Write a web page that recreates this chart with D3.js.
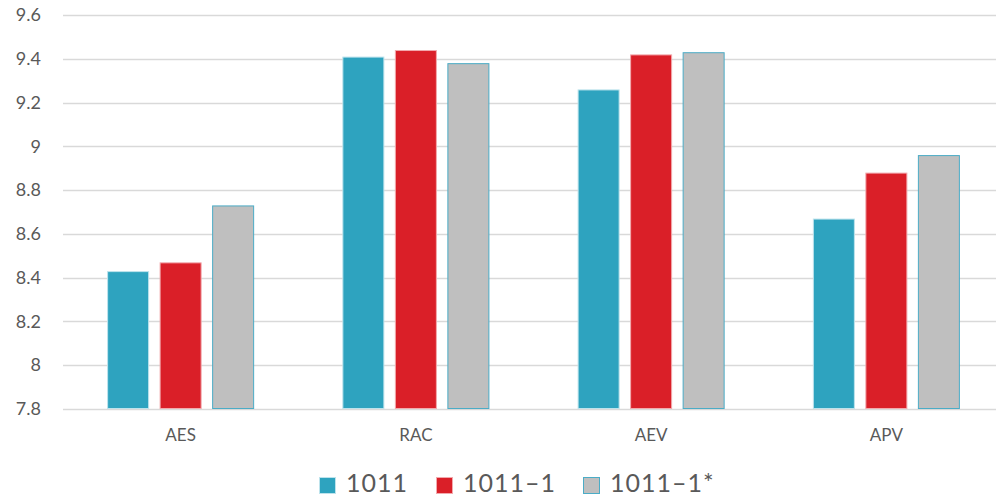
<!DOCTYPE html>
<html>
<head>
<meta charset="utf-8">
<script src="https://cdn.jsdelivr.net/npm/d3@7"></script>
<style>
  body { margin: 0; background: #fff; overflow: hidden; }
  text { font-family: Lato, "Open Sans", sans-serif; fill: #595959; }
</style>
</head>
<body>
<script>
/********************************************************/
// chart data
const categories = ["AES", "RAC", "AEV", "APV"];
const seriesNames = ["1011", "1011-1", "1011-1*"];
const values1011 = [8.43, 9.41, 9.26, 8.67];
const values1011_1 = [8.47, 9.44, 9.42, 8.88];
const values1011_1s = [8.73, 9.38, 9.43, 8.96];
const yTicks = [7.8, 8, 8.2, 8.4, 8.6, 8.8, 9, 9.2, 9.4, 9.6];

const fills = ["#2EA3BF", "#DA1F28", "#BFBFBF"];
const strokes = ["#BDE3EC", "#F2A9AD", "#4BACC6"];

/********************************************************/
const svgWidth = 997;
const svgHeight = 499;

const chartMargin = { top: 15, right: 1, bottom: 90, left: 63 };
const chartWidth = svgWidth - chartMargin.left - chartMargin.right;
const chartHeight = svgHeight - chartMargin.top - chartMargin.bottom;
// the category bands run a bit past the right edge of the picture
const bandWidthTotal = 941;

const svg = d3.select("body").append("svg")
  .attr("width", svgWidth)
  .attr("height", svgHeight);

const chartGroup = svg.append("g")
  .attr("transform", `translate(${chartMargin.left}, ${chartMargin.top})`);

// build rows for binding
const allSeries = [values1011, values1011_1, values1011_1s];
const data = categories.map((c, i) => ({
  cat: c,
  vals: seriesNames.map((s, j) => ({ key: s, idx: j, value: allSeries[j][i] }))
}));

/************** scales ************/
const x0 = d3.scaleBand()
  .domain(categories)
  .range([0, bandWidthTotal])
  .paddingInner(0.375)
  .paddingOuter(0.1875);

const x1 = d3.scaleBand()
  .domain(seriesNames)
  .range([0, x0.bandwidth()])
  .paddingInner(0.2);

const y = d3.scaleLinear()
  .domain([7.8, 9.6])
  .range([chartHeight, 0]);

/************** gridlines ************/
chartGroup.append("g")
  .selectAll("line")
  .data(yTicks)
  .enter()
  .append("line")
  .attr("x1", 0)
  .attr("x2", chartWidth)
  .attr("y1", d => Math.round(y(d)) + 0.5)
  .attr("y2", d => Math.round(y(d)) + 0.5)
  .attr("stroke", "#D9D9D9")
  .attr("stroke-width", 1.5);

/************** y axis labels ************/
const leftAxis = d3.axisLeft(y).tickValues(yTicks).tickSize(0).tickPadding(22)
  .tickFormat(d3.format("~g"));

chartGroup.append("g")
  .call(leftAxis)
  .call(g => g.select(".domain").remove())
  .attr("font-size", "18px")
  .selectAll("text")
  .style("font-family", "Lato, 'Open Sans', sans-serif")
  .attr("fill", "#595959");

/************** bars ************/
const groups = chartGroup.selectAll(".grp")
  .data(data)
  .enter()
  .append("g")
  .attr("class", "grp")
  .attr("transform", d => `translate(${x0(d.cat)},0)`);

groups.selectAll("rect")
  .data(d => d.vals)
  .enter()
  .append("rect")
  .attr("x", d => x1(d.key) + 0.5)
  .attr("y", d => y(d.value) + 0.5)
  .attr("width", x1.bandwidth() - 1)
  .attr("height", d => chartHeight - y(d.value) - 1)
  .attr("fill", d => fills[d.idx])
  .attr("stroke", d => strokes[d.idx])
  .attr("stroke-width", 1);

/************** x axis labels ************/
const bottomAxis = d3.axisBottom(x0).tickSize(0).tickPadding(20);

chartGroup.append("g")
  .attr("transform", `translate(0, ${chartHeight})`)
  .call(bottomAxis)
  .call(g => g.select(".domain").remove())
  .attr("font-size", "17px")
  .selectAll("text")
  .style("font-family", "Lato, 'Open Sans', sans-serif")
  .attr("fill", "#595959");

/************** legend ************/
const legendX = [319, 436, 583];
const legend = svg.append("g")
  .attr("transform", "translate(0, 477)");

const items = legend.selectAll(".lg")
  .data(seriesNames)
  .enter()
  .append("g")
  .attr("class", "lg")
  .attr("transform", (d, i) => `translate(${legendX[i]},0)`);

items.append("rect")
  .attr("x", 0.5)
  .attr("y", 0.5)
  .attr("width", 16)
  .attr("height", 16)
  .attr("fill", (d, i) => fills[i])
  .attr("stroke", (d, i) => strokes[i]);

items.append("text")
  .attr("x", 27)
  .attr("y", 15)
  .attr("font-size", "25px")
  .attr("letter-spacing", "1px")
  .text(d => d.replace("-", "\u2013"));
</script>
</body>
</html>
